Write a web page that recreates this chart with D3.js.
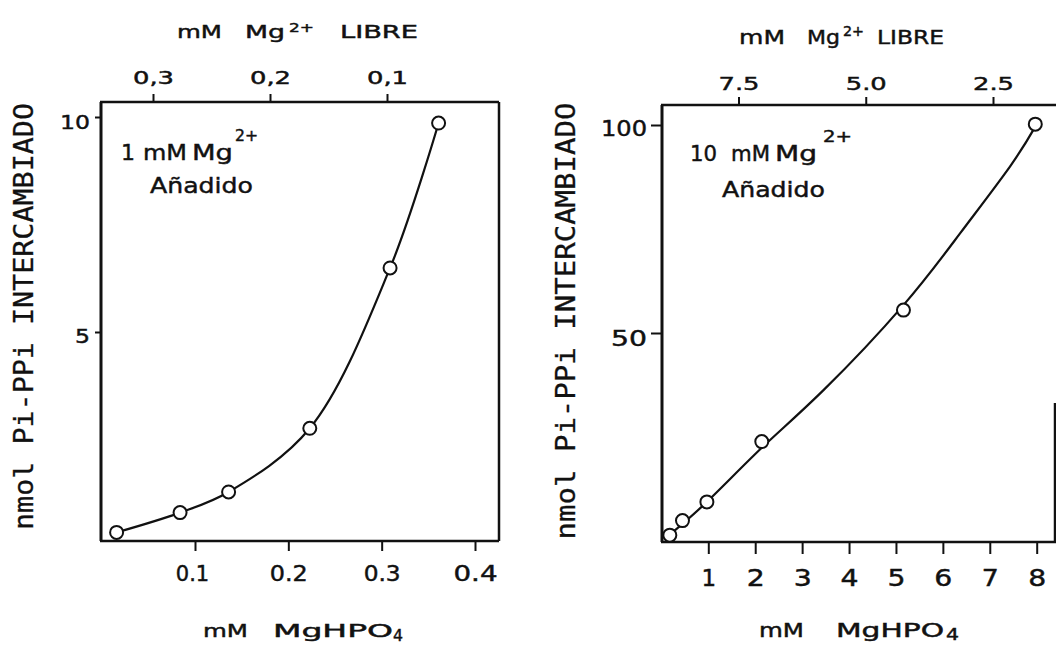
<!DOCTYPE html>
<html><head><meta charset="utf-8">
<script src="https://cdn.jsdelivr.net/npm/d3@7"></script>
<style>body{margin:0;background:#fff} svg{display:block}</style>
</head><body><svg id="c" width="1056" height="645"></svg>
<script>
// ---- data ----
const leftX  = [0.016, 0.084, 0.136, 0.223, 0.309, 0.361];   // mM MgHPO4
const leftY  = [0.34, 0.80, 1.28, 2.76, 6.49, 9.86];          // nmol Pi-PPi exchanged
const rightX = [0.18, 0.45, 0.97, 2.14, 5.16, 7.97];
const rightY = [1.4, 4.9, 9.4, 23.9, 55.5, 100.2];
// smooth fitted curve of the right panel
const rightFitX = [0.07, 0.97, 2.14, 3.45, 5.16, 6.37, 7.43, 7.97];
const rightFitY = [0.5, 9.4, 22.4, 36.2, 56.7, 74.0, 90.0, 99.6];

const leftBottomTicks  = [0.1, 0.2, 0.3, 0.4];
const leftBottomLabels = ["0.1", "0.2", "0.3", "0.4"];
const leftTopTicks     = [0.3, 0.2, 0.1];
const leftTopLabels    = ["0,3", "0,2", "0,1"];
const leftYTicks       = [5, 10];
const leftYLabels      = ["5", "10"];

const rightBottomTicks  = [1, 2, 3, 4, 5, 6, 7, 8];
const rightBottomLabels = ["1", "2", "3", "4", "5", "6", "7", "8"];
const rightTopTicks     = [7.5, 5.0, 2.5];
const rightTopLabels    = ["7.5", "5.0", "2.5"];
const rightYTicks       = [50, 100];
const rightYLabels      = ["50", "100"];

const yTitle = "nmol Pi-PPi INTERCAMBIADO";

// ---- drawing ----
const svg = d3.select("#c");
const FONT = "'DejaVu Sans', sans-serif";
const MONO = "'DejaVu Sans Mono', monospace";
const INK = "#111";

function txt(x, y, s, size, len, opts = {}) {
  const t = svg.append("text")
    .attr("x", x).attr("y", y)
    .attr("font-family", opts.family || FONT)
    .attr("font-size", size)
    .attr("fill", INK).attr("stroke", INK).attr("stroke-width", opts.sw == null ? 0.45 : opts.sw)
    .text(s);
  if (len) t.attr("textLength", len).attr("lengthAdjust", "spacingAndGlyphs");
  if (opts.anchor) t.attr("text-anchor", opts.anchor);
  if (opts.transform) t.attr("transform", opts.transform);
  return t;
}

function styleAxis(g, fontSize) {
  g.select(".domain").remove();
  g.selectAll(".tick line").attr("stroke", INK).attr("stroke-width", 2);
  return g.selectAll(".tick text")
    .attr("font-family", FONT).attr("font-size", fontSize)
    .attr("fill", INK).attr("stroke", INK).attr("stroke-width", 0.45)
    .attr("dy", null);
}

function panel(c) {
  const xS = d3.scaleLinear().domain(c.xAnchor).range(c.xPix);
  const xT = d3.scaleLinear().domain(c.xTopAnchor).range(c.xTopPix);
  const yS = d3.scaleLinear().domain(c.yAnchor).range(c.yPix);

  // bottom axis
  const gb = svg.append("g").attr("transform", `translate(0,${c.y1})`)
    .call(d3.axisBottom(xS).tickValues(c.bTicks).tickSize(c.bTickLen)
      .tickFormat((d, i) => c.bLabels[i]));
  styleAxis(gb, c.bFont).attr("y", c.bLabelY)
    .attr("textLength", (d, i) => c.bLen[i]).attr("lengthAdjust", "spacingAndGlyphs")
    .attr("x", (d, i) => c.bShift ? c.bShift[i] : 0);

  // top axis
  const gt = svg.append("g").attr("transform", `translate(0,${c.y0})`)
    .call(d3.axisTop(xT).tickValues(c.tTicks).tickSize(8)
      .tickFormat((d, i) => c.tLabels[i]));
  styleAxis(gt, c.tFont).attr("y", c.tLabelY)
    .attr("textLength", c.tLen).attr("lengthAdjust", "spacingAndGlyphs");

  // left axis
  const gl = svg.append("g").attr("transform", `translate(${c.x0},0)`)
    .call(d3.axisLeft(yS).tickValues(c.yTicks).tickSize(c.yTickLen)
      .tickFormat((d, i) => c.yLabels[i]));
  styleAxis(gl, c.yFont).attr("x", c.yLabelX).attr("y", (d, i) => c.yLabelDy[i])
    .attr("textLength", (d, i) => c.yLen[i]).attr("lengthAdjust", "spacingAndGlyphs");

  // frame
  const f = svg.append("g").attr("stroke", INK).attr("fill", "none").attr("stroke-width", 2.5);
  f.append("line").attr("x1", c.x0 - 1).attr("x2", c.frameRight).attr("y1", c.y0).attr("y2", c.y0);
  f.append("line").attr("x1", c.x0 - 1).attr("x2", c.frameRight).attr("y1", c.y1).attr("y2", c.y1);
  f.append("line").attr("x1", c.x0).attr("x2", c.x0).attr("y1", c.y0).attr("y2", c.y1).attr("stroke-width", 3);
  f.append("line").attr("x1", c.x1).attr("x2", c.x1).attr("y1", c.rightBorderTop).attr("y2", c.y1);

  // curve and points
  const pts = c.xs.map((x, i) => [x, c.ys[i]]);
  const fit = c.fx.map((x, i) => [x, c.fy[i]]);
  svg.append("path").datum(fit)
    .attr("fill", "none").attr("stroke", INK).attr("stroke-width", 2.2)
    .attr("d", d3.line().x(d => xS(d[0])).y(d => yS(d[1])).curve(c.curve));
  svg.append("g").selectAll("circle").data(pts).join("circle")
    .attr("cx", d => xS(d[0])).attr("cy", d => yS(d[1])).attr("r", c.r)
    .attr("fill", "#fff").attr("stroke", INK).attr("stroke-width", 2);
}

// Left panel
panel({
  x0: 101, x1: 499, y0: 102, y1: 541,
  xAnchor: [0.1, 0.4], xPix: [195, 475],
  xTopAnchor: [0.3, 0.1], xTopPix: [153, 387],
  yAnchor: [5, 10], yPix: [332, 117],
  bTicks: leftBottomTicks, bLabels: leftBottomLabels, bTickLen: 10, bFont: 21, bLabelY: 40,
  bLen: [null, 38, 37, 44], bShift: [-3, 0, 0, 0],
  tTicks: leftTopTicks, tLabels: leftTopLabels, tFont: 17, tLabelY: -18, tLen: 41,
  yTicks: leftYTicks, yLabels: leftYLabels, yTickLen: 6, yFont: 20, yLabelX: -11,
  yLabelDy: [10, 11], yLen: [15, 30],
  frameRight: 499, rightBorderTop: 102,
  xs: leftX, ys: leftY, fx: leftX, fy: leftY, curve: d3.curveCatmullRom.alpha(0.5), r: 6.5
});

// Right panel
panel({
  x0: 662, x1: 1055, y0: 105, y1: 542,
  xAnchor: [1, 8], xPix: [708.3, 1036.7],
  xTopAnchor: [7.5, 2.5], xTopPix: [738.5, 993],
  yAnchor: [0, 100], yPix: [541, 125],
  bTicks: rightBottomTicks, bLabels: rightBottomLabels, bTickLen: 12, bFont: 23, bLabelY: 44,
  bLen: [null, 18, 18, 18, 18, 18, 17, 18],
  tTicks: rightTopTicks, tLabels: rightTopLabels, tFont: 18, tLabelY: -15, tLen: 41,
  yTicks: rightYTicks, yLabels: rightYLabels, yTickLen: 11, yFont: 21, yLabelX: -15,
  yLabelDy: [12, 10], yLen: [36, 46],
  frameRight: 1056, rightBorderTop: 403,
  xs: rightX, ys: rightY, fx: rightFitX, fy: rightFitY, curve: d3.curveNatural, r: 6.5
});

// ---- titles ----
// left top
txt(177, 38, "mM", 18, 45);
txt(245, 38, "Mg", 18, 40);
txt(289, 32, "2+", 13, 25);
txt(340, 38, "LIBRE", 18, 78);
// right top
txt(739, 44, "mM", 20, 46);
txt(807, 44, "Mg", 20, 33);
txt(843, 36, "2+", 14, 21);
txt(877, 44, "LIBRE", 20, 67);

// bottom titles
txt(203, 637, "mM", 18, 45);
txt(273, 637, "MgHPO", 18, 120);
txt(393, 641, "4", 16, 10);
txt(759, 637, "mM", 19, 45);
txt(836, 637, "MgHPO", 19, 108);
txt(946, 640, "4", 15, 13);

// annotations
txt(121, 160, "1", 22, null);
txt(143, 160, "mM", 22, 44);
txt(192, 160, "Mg", 22, 41);
txt(235, 141, "2+", 15, 23);
txt(150, 193, "Añadido", 22, 103);

txt(690, 161, "10", 21, 27);
txt(731, 161, "mM", 21, 39);
txt(775, 161, "Mg", 21, 42);
txt(823, 142, "2+", 15, 29);
txt(722, 197, "Añadido", 21, 103);

// y titles
txt(0, 0, yTitle, 27, 427, { family: MONO, anchor: "middle", sw: 0.3, transform: "translate(33,316.5) rotate(-90)" });
txt(0, 0, yTitle, 27, 437, { family: MONO, anchor: "middle", sw: 0.3, transform: "translate(575,321) rotate(-90)" });
</script>
</body></html>
